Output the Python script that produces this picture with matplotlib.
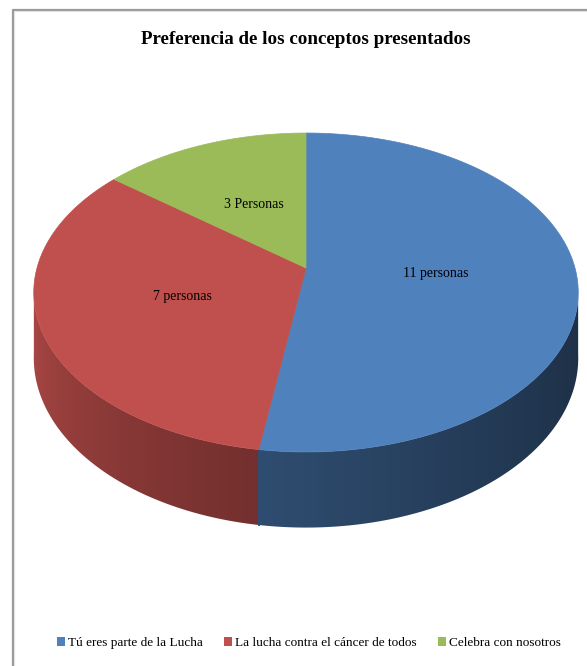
import matplotlib
matplotlib.use('Agg')
import matplotlib.pyplot as plt
from matplotlib.patches import Polygon, Patch
from matplotlib.lines import Line2D
import numpy as np

# data
valores = [11, 7, 3]
conceptos = ['Tú eres parte de la Lucha',
             'La lucha contra el cáncer de todos',
             'Celebra con nosotros']
etiquetas = ['11 personas', '7 personas', '3 Personas']
colores = ['#4f81bd', '#c0504d', '#9bbb59']

# geometry of the 3d pie (pixel space)
cx, cy = 306, 268
A, B, k = 269, 155.7, 0.1536
D = 64


def proj(theta, depth=0.0, r=1.0):
    t = np.radians(theta)
    u = r * np.sin(t)
    v = -r * np.cos(t)
    w = 1 - k * v
    return cx + A * u / w, cy + (B * v + depth) / w


def shade(theta, col):
    base = np.array(matplotlib.colors.to_rgb(col))
    s = np.clip((np.atleast_1d(theta) - 99) / 162.0, 0, 1)
    f = 0.37 + 0.53 * s ** 1.42
    return base[None, :] * f[:, None]


fig = plt.figure(figsize=(5.87, 6.66), dpi=100)
ax = fig.add_axes([0, 0, 1, 1])
ax.set_xlim(0, 587)
ax.set_ylim(666, 0)
ax.axis('off')

total = float(sum(valores))
bordes = np.concatenate([[0], np.cumsum(valores) / total * 360])

# side walls with horizontal gradient
for i in range(len(valores)):
    a0 = max(bordes[i], 97.5)
    a1 = min(bordes[i + 1], 262.5)
    if a1 <= a0:
        continue
    th = np.linspace(a0, a1, 300)
    xt, yt = proj(th)
    xb, yb = proj(th[::-1], D)
    pts = list(zip(xt, yt)) + list(zip(xb, yb))
    poly = Polygon(pts, closed=True, facecolor='none', edgecolor='none')
    ax.add_patch(poly)
    xmin, xmax = min(xt.min(), xb.min()), max(xt.max(), xb.max())
    ymin, ymax = min(yt.min(), yb.min()), max(yt.max(), yb.max())
    cols = np.linspace(xmin, xmax, 400)
    order = np.argsort(xt)
    th_col = np.interp(cols, xt[order], th[order])
    img = shade(th_col, colores[i])[None, :, :]
    im = ax.imshow(img, extent=(xmin - 1, xmax + 1, ymax + 1, ymin - 1),
                   aspect='auto', interpolation='bilinear', zorder=1)
    im.set_clip_path(poly)
    # cover the seam at the slice edge facing the viewer
    for a in (a0, a1):
        if 97.5 < a < 262.5:
            xa, ya = proj(a)
            xe, ye = proj(a, D)
            ax.add_line(Line2D([xa, xe], [ya, ye], lw=1.2, zorder=1.5,
                               color=shade(a, colores[0])[0]))

# top faces
for i in range(len(valores)):
    th = np.linspace(bordes[i], bordes[i + 1], 200)
    xs, ys = proj(th)
    pts = [(cx, cy)] + list(zip(xs, ys))
    ax.add_patch(Polygon(pts, closed=True, facecolor=colores[i],
                         edgecolor=colores[i], lw=0.5, zorder=2))
    mid = 0.5 * (bordes[i] + bordes[i + 1])
    lx, ly = proj(mid, r=0.48)
    ax.text(lx, ly, etiquetas[i], ha='center', va='center', zorder=3,
            fontsize=10, family='Liberation Serif', color='black')

ax.set_xlim(0, 587)
ax.set_ylim(666, 0)

ax.text(306, 40, 'Preferencia de los conceptos presentados', ha='center',
        va='center', fontsize=13.7, fontweight='bold',
        family='Liberation Serif')

# chart frame (left and top edges)
ax.add_line(Line2D([12.5, 12.5, 587], [666, 9.5, 9.5], color='#9a9a9a', lw=1.6))
ax.add_line(Line2D([14, 14, 587], [666, 11, 11], color='#e2e2e2', lw=0.8))

handles = [Patch(facecolor=c, edgecolor='none') for c in colores]
fig.legend(handles, conceptos, loc='center', bbox_to_anchor=(0.526, 1 - 643 / 666),
           ncol=3, frameon=False, handlelength=0.6, handleheight=0.6,
           handletextpad=0.25, columnspacing=1.6,
           prop={'family': 'Liberation Serif', 'size': 9.5})

plt.savefig('out.png', dpi=100)
